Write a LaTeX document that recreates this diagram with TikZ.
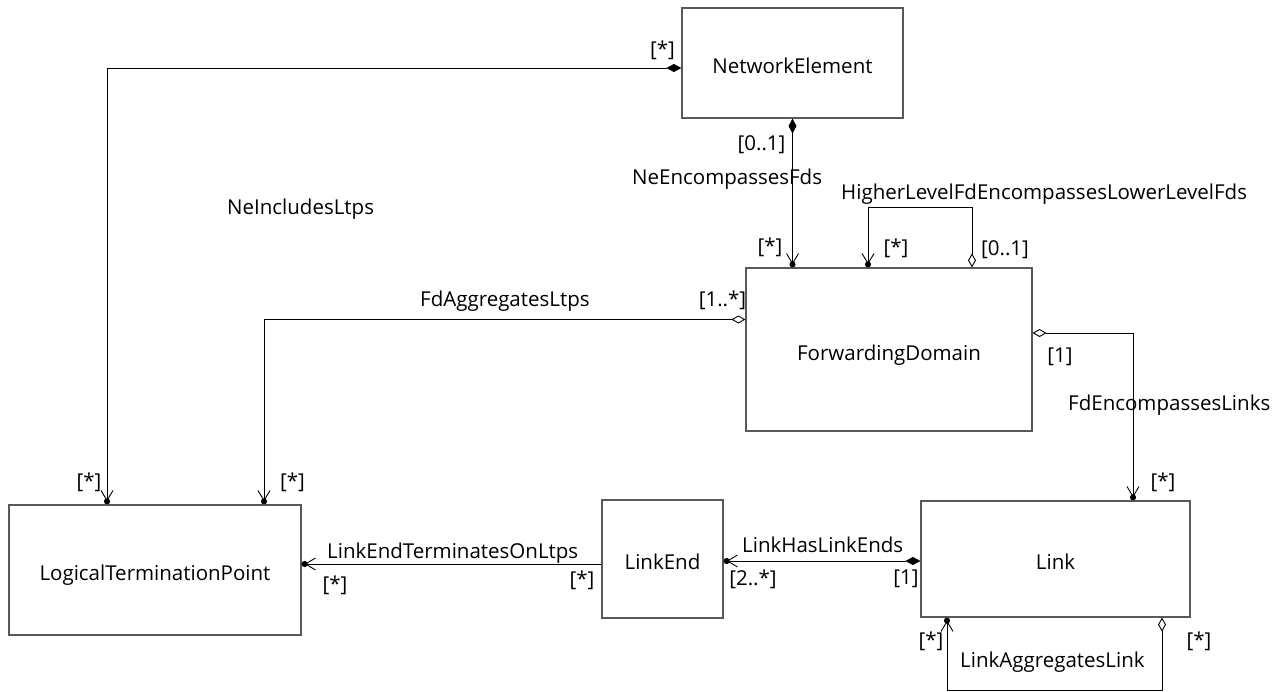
\documentclass[tikz,border=0pt]{standalone}
\usepackage{fontspec}
\setmainfont{Open Sans}
\usetikzlibrary{arrows.meta}
\newcommand{\umlfont}{\fontsize{20.5}{24}\selectfont}
\tikzstyle{umlclass}=
[
	rectangle
	, draw=black!65
	, line width=1.2pt
	, fill=white
	, text height=21.6pt
	, text depth=0pt
	, font=\umlfont
]
\tikzstyle{mult}=[font=\umlfont, inner sep=0pt]
\tikzstyle{assocname}=[font=\umlfont, inner sep=0pt, anchor=base west]
\tikzstyle{navend}=[line width=0.9pt, -{Straight Barb[length=10pt,width=12pt,sep=-3pt]Circle[length=6pt]}]
\tikzstyle{composite}=[navend, {Kite[length=15pt,width=8pt,inset=7.5pt]}-{Straight Barb[length=10pt,width=12pt,sep=-3pt]Circle[length=6pt]}]
\tikzstyle{aggregate}=[navend, {Kite[open,length=14pt,width=8pt,inset=7pt]}-{Straight Barb[length=10pt,width=12pt,sep=-3pt]Circle[length=6pt]}]

\begin{document}
\begin{tikzpicture}[x=1pt, y=-1pt]
\useasboundingbox (0,0) rectangle (1281,692);

% classes
\node(netelem)[umlclass, minimum width=221pt, minimum height=110pt] at (792.5,63) {NetworkElement};
\node(fwdom)[umlclass, minimum width=286pt, minimum height=163pt] at (889,349.5) {ForwardingDomain};
\node(ltp)[umlclass, minimum width=292pt, minimum height=130pt] at (155,570) {LogicalTerminationPoint};
\node(lend)[umlclass, minimum width=121pt, minimum height=118pt] at (662.5,559) {LinkEnd};
\node(link)[umlclass, minimum width=269pt, minimum height=116pt] at (1055.5,559) {Link};

% associations
\draw[composite]([yshift=-5pt]netelem.west) -| ([xshift=-48pt]ltp.north);
\draw[composite](netelem.south) -- (netelem.south |- fwdom.north);
\draw[aggregate]([xshift=83pt]fwdom.north) -- ++(0,-60) -| ([xshift=-21pt]fwdom.north);
\draw[aggregate]([yshift=30pt]fwdom.west) -| ([xshift=109pt]ltp.north);
\draw[aggregate]([yshift=16.5pt]fwdom.east) -| ([xshift=77.5pt]link.north);
\draw[navend]([yshift=-5pt]lend.west) coordinate (lt) -- (lt -| ltp.east);
\draw[composite]([yshift=-2pt]link.west) coordinate (lh) -- (lh -| lend.east);
\draw[aggregate]([xshift=106.5pt]link.south) -- ++(0,73) -| ([xshift=-108.5pt]link.south);

% association names
\node(n1)[assocname] at (227,215) {NeIncludesLtps};
\node(n2)[assocname] at (632,185) {NeEncompassesFds};
\node(n3)[assocname] at (841,200) {HigherLevelFdEncompassesLowerLevelFds};
\node(n4)[assocname] at (420,307) {FdAggregatesLtps};
\node(n5)[assocname] at (1068,410) {FdEncompassesLinks};
\node(n6)[assocname] at (327,558) {LinkEndTerminatesOnLtps};
\node(n7)[assocname] at (742,552) {LinkHasLinkEnds};
\node(n8)[assocname] at (960,667) {LinkAggregatesLink};

% multiplicities
\node(m1)[mult] at (662.5,50) {[*]};
\node(m2)[mult] at (89,482) {[*]};
\node(m3)[mult] at (761.5,145) {[0..1]};
\node(m4)[mult] at (770,247) {[*]};
\node(m5)[mult] at (896,248) {[*]};
\node(m6)[mult] at (1005,250) {[0..1]};
\node(m7)[mult] at (722.5,300) {[1..*]};
\node(m8)[mult] at (292.5,482) {[*]};
\node(m9)[mult] at (1060,357) {[1]};
\node(m10)[mult] at (1163,482) {[*]};
\node(m11)[mult] at (335,585) {[*]};
\node(m12)[mult] at (582,580) {[*]};
\node(m13)[mult] at (753,579) {[2..*]};
\node(m14)[mult] at (906,579) {[1]};
\node(m15)[mult] at (931,641) {[*]};
\node(m16)[mult] at (1199,641) {[*]};

\end{tikzpicture}
\end{document}
